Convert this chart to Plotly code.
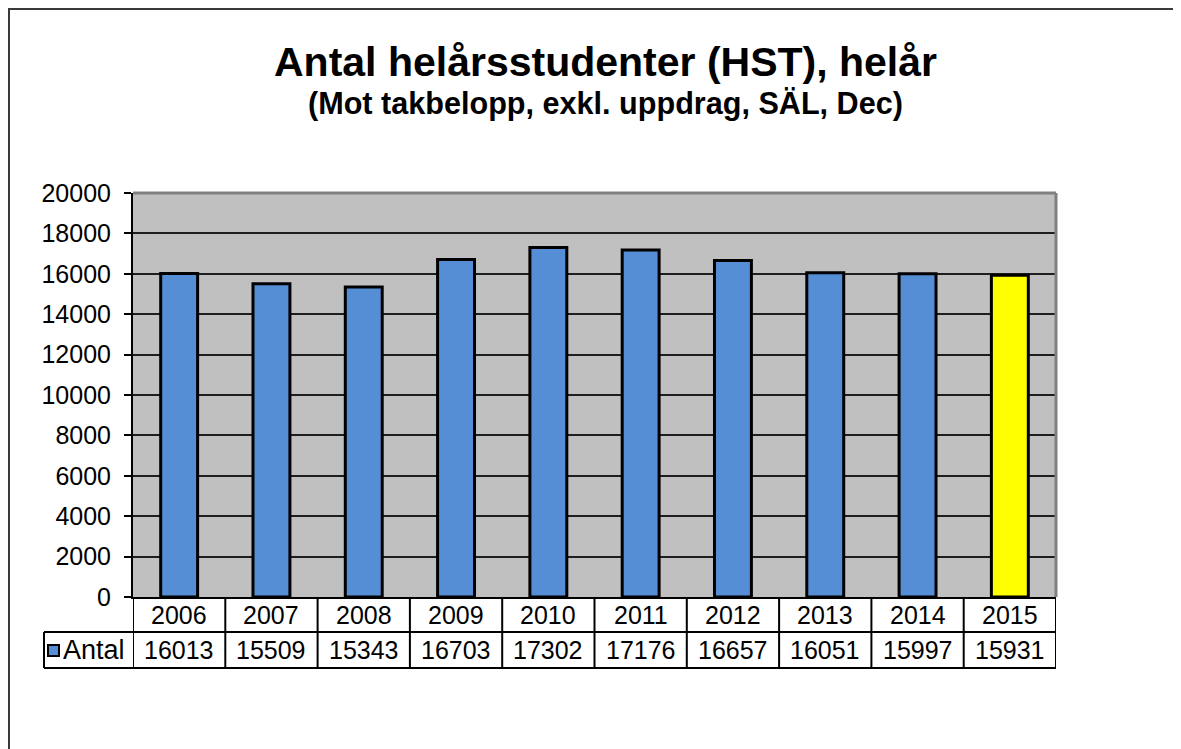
import plotly.graph_objects as go

# Data
years = ["2006", "2007", "2008", "2009", "2010", "2011", "2012", "2013", "2014", "2015"]
antal = [16013, 15509, 15343, 16703, 17302, 17176, 16657, 16051, 15997, 15931]
bar_colors = ["#558ED5"] * 9 + ["#FFFF00"]
series_name = "Antal"

title_main = "Antal helårsstudenter (HST), helår"
title_sub = "(Mot takbelopp, exkl. uppdrag, SÄL, Dec)"

# Page geometry in page pixels; the html body adds an 8px margin
OFF = 8
W, H = 1181 - OFF, 749 - OFF
L, R, T, B = 133, 1056, 193, 597
pw, ph = R - L, B - T


def px(x):
    return (x - L) / pw


def py(y):
    return (B - y) / ph


FONT = "Liberation Sans, Arial, sans-serif"

fig = go.Figure()
fig.add_trace(go.Bar(
    x=list(range(len(years))),
    y=antal,
    width=0.4,
    marker=dict(color=bar_colors, line=dict(color="black", width=3)),
    name=series_name,
    showlegend=False,
))

shapes = []
# outer chart frame
shapes.append(dict(type="rect", xref="paper", yref="paper",
                   x0=px(9), x1=px(1200), y0=py(770), y1=py(9),
                   line=dict(color="#3a3a3a", width=2), layer="above"))
# plot area gray border (top and right)
shapes.append(dict(type="line", xref="paper", yref="paper", x0=0, x1=1, y0=1, y1=1,
                   line=dict(color="#808080", width=3), layer="above"))
shapes.append(dict(type="line", xref="paper", yref="paper", x0=1, x1=1, y0=0, y1=1,
                   line=dict(color="#808080", width=3), layer="above"))

# data table grid
row1, row2 = 632, 668
for i in range(len(years) + 1):
    shapes.append(dict(type="line", xref="x", yref="paper", x0=i - 0.5, x1=i - 0.5,
                       y0=py(row2), y1=0, line=dict(color="black", width=2)))
legend_left = 44
for yy in (row1, row2):
    shapes.append(dict(type="line", xref="paper", yref="paper", x0=px(legend_left), x1=1,
                       y0=py(yy), y1=py(yy), line=dict(color="black", width=2)))
shapes.append(dict(type="line", xref="paper", yref="paper", x0=px(legend_left), x1=px(legend_left),
                   y0=py(row2), y1=py(row1), line=dict(color="black", width=2)))
# legend key
shapes.append(dict(type="rect", xref="paper", yref="paper",
                   x0=px(48), x1=px(59), y0=py(656), y1=py(645),
                   fillcolor=bar_colors[0], line=dict(color="black", width=2)))

annotations = []
for i, (yr, v) in enumerate(zip(years, antal)):
    annotations.append(dict(x=i, y=py((B + row1) / 2), xref="x", yref="paper",
                            text=yr, showarrow=False, yanchor="middle",
                            font=dict(family=FONT, size=25, color="black")))
    annotations.append(dict(x=i, y=py((row1 + row2) / 2), xref="x", yref="paper",
                            text=str(v), showarrow=False, yanchor="middle",
                            font=dict(family=FONT, size=25, color="black")))
annotations.append(dict(x=px(61), y=py((row1 + row2) / 2), xref="paper", yref="paper",
                        text=series_name, showarrow=False, xanchor="left", yanchor="middle",
                        font=dict(family=FONT, size=27, color="black")))
# titles
annotations.append(dict(x=px(605), y=py(62), xref="paper", yref="paper",
                        text="<b>" + title_main + "</b>", showarrow=False, yanchor="middle",
                        font=dict(family=FONT, size=41, color="black")))
annotations.append(dict(x=px(605), y=py(103), xref="paper", yref="paper",
                        text="<b>" + title_sub + "</b>", showarrow=False, yanchor="middle",
                        font=dict(family=FONT, size=30.6, color="black")))

fig.update_layout(
    width=W, height=H,
    margin=dict(l=L - OFF, r=W + OFF - R, t=T - OFF, b=H + OFF - B, pad=0),
    paper_bgcolor="white",
    plot_bgcolor="#C0C0C0",
    bargap=0.6,
    shapes=shapes,
    annotations=annotations,
    xaxis=dict(range=[-0.5, len(years) - 0.5], showticklabels=False,
               showgrid=False, showline=True, linecolor="black", linewidth=2,
               ticks="", zeroline=False, fixedrange=True),
    yaxis=dict(range=[0, 20000], dtick=2000, tick0=0, tickformat="d", showgrid=True,
               gridcolor="#1e1e1e", gridwidth=2, showline=True, linecolor="black",
               linewidth=2, ticks="outside", ticklen=7, tickcolor="black", tickwidth=2,
               ticklabelstandoff=8,
               tickfont=dict(family=FONT, size=25, color="black"),
               zeroline=False, fixedrange=True),
    font=dict(family=FONT, color="black"),
)

fig.write_html("out.html")
